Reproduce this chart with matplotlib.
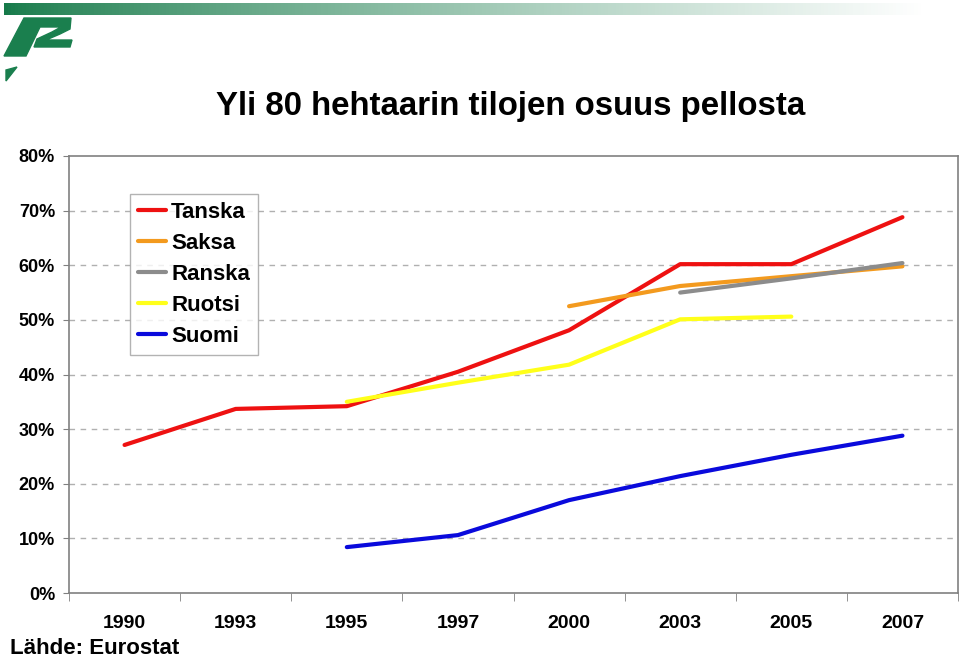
import matplotlib
matplotlib.use("Agg")
import matplotlib.pyplot as plt
import numpy as np
from matplotlib.patches import Polygon

plt.rcParams['font.family'] = ['Liberation Sans', 'DejaVu Sans']

years = ["1990", "1993", "1995", "1997", "2000", "2003", "2005", "2007"]
nan = np.nan
tanska = [27.1, 33.7, 34.2, 40.5, 48.1, 60.2, 60.2, 68.8]
saksa = [nan, nan, nan, nan, 52.5, 56.2, 58.0, 59.8]
ranska = [nan, nan, nan, nan, nan, 55.0, 57.6, 60.4]
ruotsi = [nan, nan, 35.0, 38.5, 41.8, 50.1, 50.6, nan]
suomi = [nan, nan, 8.4, 10.6, 17.0, 21.4, 25.3, 28.8]

series = [("Tanska", tanska, "#EE1111"),
          ("Saksa", saksa, "#F39A1E"),
          ("Ranska", ranska, "#8C8C8C"),
          ("Ruotsi", ruotsi, "#FFFF1A"),
          ("Suomi", suomi, "#0A0ADC")]

W, H = 960, 659
fig = plt.figure(figsize=(W / 100, H / 100), dpi=100)

def fx(px):
    return px / W

def fy(py):
    return 1 - py / H

# top gradient bar
gax = fig.add_axes([fx(4), fy(15), fx(925 - 4), fy(3) - fy(15)])
grad = np.linspace(0, 1, 256) ** 0.8
c0 = np.array([0.09, 0.48, 0.29])
c1 = np.array([1.0, 1.0, 1.0])
img = (c0[None, :] * (1 - grad[:, None]) + c1[None, :] * grad[:, None])[None, :, :]
gax.imshow(img, aspect='auto', extent=[0, 1, 0, 1])
gax.axis('off')

# logo
logo_col = "#1A7F4E"
logo_pts = [(4, 56), (24, 18), (71, 18), (70, 29), (60, 34), (46, 40), (72, 40),
            (70, 47), (34, 47), (37, 39), (52, 32), (61, 27), (40, 27), (26, 56)]
fig.patches.append(Polygon([(fx(x), fy(y)) for x, y in logo_pts], closed=True,
                           transform=fig.transFigure, color=logo_col, zorder=5))
tri = [(6, 81), (6, 70), (17, 67)]
fig.patches.append(Polygon([(fx(x), fy(y)) for x, y in tri], closed=True,
                           transform=fig.transFigure, color=logo_col, zorder=5))

# main axes
ax = fig.add_axes([fx(69), fy(593), fx(958 - 69), fy(156) - fy(593)])
x = np.arange(len(years))
for name, vals, col in series:
    ax.plot(x, vals, color=col, lw=3.0, label=name, solid_capstyle='round',
            solid_joinstyle='round', zorder=3)

ax.set_xlim(-0.5, len(years) - 0.5)
ax.set_ylim(0, 80)
ax.set_yticks(np.arange(0, 81, 10))
ax.set_yticklabels([f"{v}%" for v in range(0, 81, 10)], fontsize=13, fontweight='bold')
ax.set_xticks(x)
ax.set_xticklabels(years, fontsize=14, fontweight='bold')
ax.set_xticks(np.arange(-0.5, len(years), 1), minor=True)
ax.tick_params(axis='x', which='major', length=0, pad=16)
ax.tick_params(axis='x', which='minor', length=6, color='#808080', direction='out')
ax.tick_params(axis='y', which='major', length=4, color='#808080', pad=6)

for v in range(10, 80, 10):
    ax.axhline(v, color='#B0B0B0', lw=1, ls=(0, (4, 4)), zorder=1)

for s in ax.spines.values():
    s.set_color('#808080')
    s.set_linewidth(1.2)

leg = ax.legend(loc='upper left', bbox_to_anchor=(fx(130 - 69) / fx(958 - 69), (fy(194) - fy(593)) / (fy(156) - fy(593))),
                prop={'size': 16, 'weight': 'bold'}, frameon=True, fancybox=False,
                handlelength=1.25, handletextpad=0.25, labelspacing=0.45,
                borderpad=0.35, borderaxespad=0)
leg.get_frame().set_edgecolor('#A0A0A0')
leg.get_frame().set_linewidth(1)

fig.text(fx(511), fy(106), "Yli 80 hehtaarin tilojen osuus pellosta", ha='center', va='center',
         fontsize=23.8, fontweight='bold')
fig.text(fx(10), fy(649), "Lähde: Eurostat", ha='left', va='center', fontsize=16, fontweight='bold')

fig.savefig("out.png", dpi=100, facecolor='white')
